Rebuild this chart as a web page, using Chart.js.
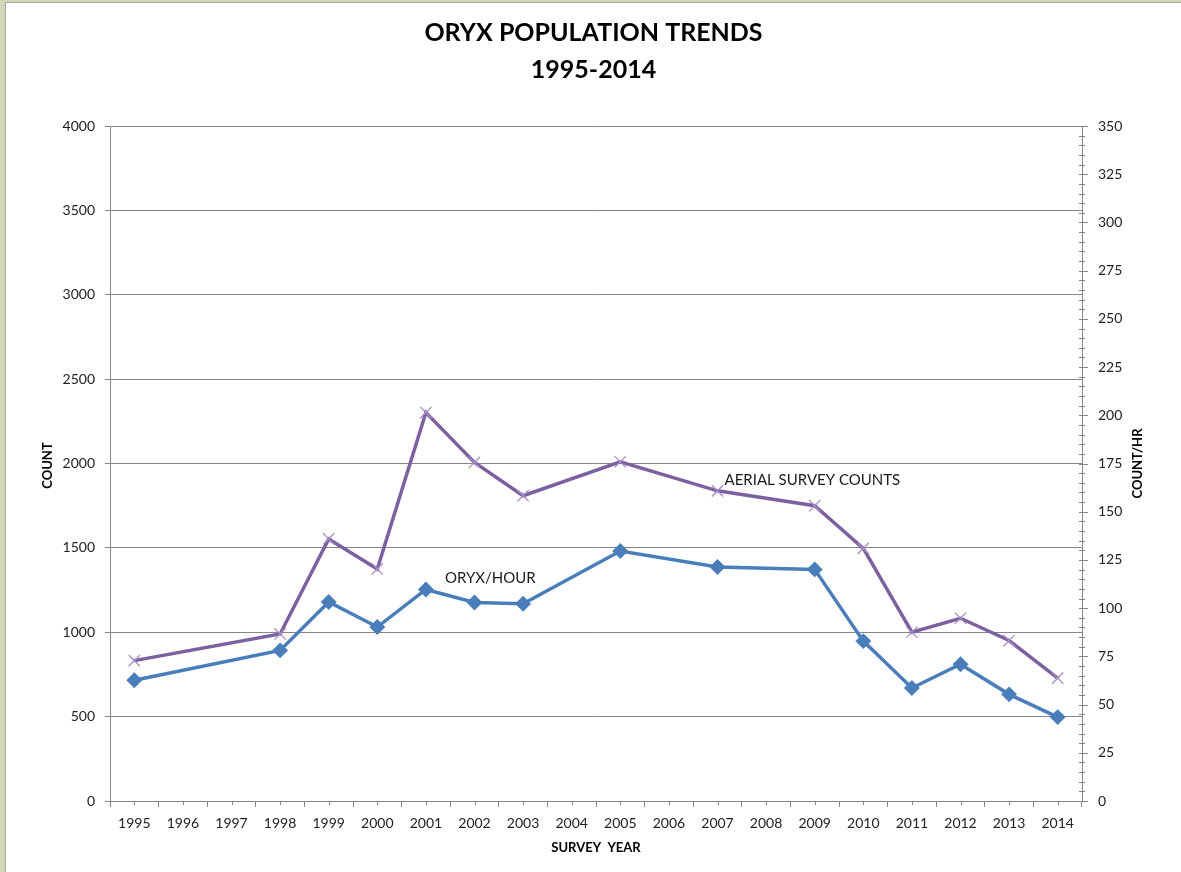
<!DOCTYPE html>
<html lang="en">
<head>
    <meta charset="utf-8" />
    <title>Oryx population trends</title>
    <script src="https://cdn.jsdelivr.net/npm/chart.js"></script>
    <style>
        html, body { margin: 0; padding: 0; }
        body { width: 1181px; height: 872px; background: #d3d9b8; overflow: hidden; position: relative; }
        #panel { position: absolute; left: 5px; top: 2px; width: 1176px; height: 870px;
                 background: #fff; border-left: 1px solid #a8a8a8; border-top: 1px solid #a8a8a8; }
        canvas { display: block; }
    </style>
</head>
<body>
    <div id="panel"><canvas id="chart" width="1175" height="869"></canvas></div>

    <script>
        // survey years on the x axis (missing years have no survey)
        const years = ['1995', '1996', '1997', '1998', '1999', '2000', '2001', '2002', '2003', '2004',
                       '2005', '2006', '2007', '2008', '2009', '2010', '2011', '2012', '2013', '2014'];

        // left axis: aerial survey counts
        const aerialCounts = [832, null, null, 990, 1553, 1375, 2302, 2006, 1809, null,
                              2010, null, 1838, null, 1750, 1497, 1000, 1083, 951, 728];

        // right axis: oryx seen per hour
        const oryxPerHour = [62.6, null, null, 78.1, 103.2, 90.2, 109.7, 102.9, 102.3, null,
                             129.6, null, 121.3, null, 120.1, 82.9, 58.6, 70.9, 55.3, 43.5];

        const countTicks = { min: 0, max: 4000, step: 500 };
        const rateTicks = { min: 0, max: 350, step: 25, minor: 5 };

        const titleLines = ['ORYX POPULATION TRENDS', '1995-2014'];
        const labelFont = 'Lato';
        const axisGray = '#868686';

        // extra ticks, axis titles and the two in-chart labels
        const extras = {
            id: 'extras',
            afterDraw(chart) {
                const ctx = chart.ctx;
                const x = chart.scales.x, y = chart.scales.y, y1 = chart.scales.y1;
                const area = chart.chartArea;
                ctx.save();
                ctx.strokeStyle = axisGray;
                ctx.lineWidth = 1;
                // short ticks at category centres
                ctx.beginPath();
                for (let i = 0; i < years.length; i++) {
                    const px = Math.round(x.getPixelForValue(i)) + 0.5;
                    ctx.moveTo(px, area.bottom);
                    ctx.lineTo(px, area.bottom + 4);
                }
                // minor ticks on the right axis
                for (let v = rateTicks.min; v <= rateTicks.max; v += rateTicks.minor) {
                    const py = Math.round(y1.getPixelForValue(v)) + 0.5;
                    const major = v % rateTicks.step === 0;
                    ctx.moveTo(area.right - 3, py);
                    ctx.lineTo(area.right + (major ? 6 : 3), py);
                }
                ctx.stroke();

                // axis titles
                ctx.fillStyle = '#000';
                ctx.font = 'bold 13px ' + labelFont;
                ctx.textAlign = 'center';
                ctx.textBaseline = 'middle';
                ctx.fillText('SURVEY  YEAR', (area.left + area.right) / 2, area.bottom + 47);
                const midY = (area.top + area.bottom) / 2;
                ctx.save();
                ctx.translate(area.left - 62, midY + 2);
                ctx.rotate(-Math.PI / 2);
                ctx.fillText('COUNT', 0, 0);
                ctx.restore();
                ctx.save();
                ctx.translate(area.right + 56, midY);
                ctx.rotate(-Math.PI / 2);
                ctx.fillText('COUNT/HR', 0, 0);
                ctx.restore();

                // series labels
                ctx.font = '15px ' + labelFont;
                ctx.fillStyle = '#1a1a1a';
                ctx.textAlign = 'left';
                ctx.fillText('ORYX/HOUR', x.getPixelForValue(6) + 19, y.getPixelForValue(1318));
                ctx.fillText('AERIAL SURVEY COUNTS', x.getPixelForValue(12) + 7, y.getPixelForValue(1904));
                ctx.restore();
            }
        };

        new Chart(document.getElementById('chart'), {
            type: 'line',
            data: {
                labels: years,
                datasets: [{
                    label: 'AERIAL SURVEY COUNTS',
                    data: aerialCounts,
                    yAxisID: 'y',
                    borderColor: '#7d60a0',
                    borderWidth: 3.5,
                    pointStyle: 'crossRot',
                    pointRadius: 8,
                    pointBorderColor: '#a48fc4',
                    pointBorderWidth: 1.3,
                    pointBackgroundColor: '#a48fc4',
                    spanGaps: true,
                    tension: 0
                }, {
                    label: 'ORYX/HOUR',
                    data: oryxPerHour,
                    yAxisID: 'y1',
                    borderColor: '#4a7ebb',
                    borderWidth: 3.5,
                    pointStyle: 'rectRot',
                    pointRadius: 5.5,
                    pointBorderColor: '#4a7ebb',
                    pointBackgroundColor: '#4a7ebb',
                    spanGaps: true,
                    tension: 0
                }]
            },
            options: {
                responsive: false,
                animation: false,
                devicePixelRatio: 1,
                layout: { padding: 0 },
                plugins: {
                    legend: { display: false },
                    tooltip: { enabled: false },
                    title: {
                        display: true,
                        text: titleLines,
                        color: '#000',
                        font: { family: labelFont, size: 25, weight: 'bold', lineHeight: 1.48 },
                        padding: { top: 11, bottom: 38 }
                    }
                },
                scales: {
                    x: {
                        offset: true,
                        grid: { offset: true, drawOnChartArea: false, tickLength: 6, color: axisGray },
                        border: { color: axisGray },
                        ticks: { font: { family: labelFont, size: 14 }, color: '#222', padding: 8,
                                 maxRotation: 0, autoSkip: false },
                        afterFit: s => { s.height = 71; }
                    },
                    y: {
                        position: 'left',
                        min: countTicks.min,
                        max: countTicks.max,
                        grid: { color: axisGray, tickLength: 5 },
                        border: { color: axisGray },
                        ticks: { stepSize: countTicks.step, font: { family: labelFont, size: 14 },
                                 color: '#222', padding: 10, callback: v => String(v) },
                        afterFit: s => { s.width = 104; }
                    },
                    y1: {
                        position: 'right',
                        min: rateTicks.min,
                        max: rateTicks.max,
                        grid: { drawOnChartArea: false, drawTicks: false, color: axisGray },
                        border: { color: axisGray },
                        ticks: { stepSize: rateTicks.step, font: { family: labelFont, size: 14 },
                                 color: '#222', padding: 16, callback: v => String(v) },
                        afterFit: s => { s.width = 99; }
                    }
                }
            },
            plugins: [extras]
        });
    </script>
</body>
</html>
